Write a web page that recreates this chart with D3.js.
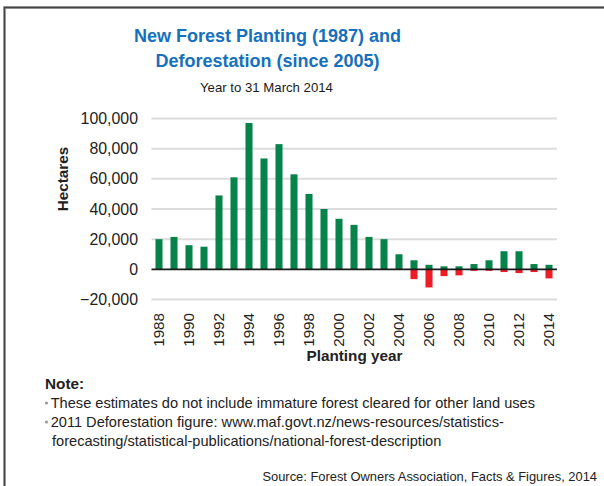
<!DOCTYPE html>
<html>
<head>
<meta charset="utf-8">
<script src="https://cdn.jsdelivr.net/npm/d3@7"></script>
<style>
  html, body { margin: 0; padding: 0; background: #fff; }
  svg { display: block; }
  text { font-family: "Liberation Sans", Arial, Helvetica, sans-serif; }
</style>
</head>
<body>
<svg id="chart" width="604" height="486"></svg>
<script>
// Planting years (year to 31 March)
const years = [1988, 1989, 1990, 1991, 1992, 1993, 1994, 1995, 1996, 1997, 1998, 1999, 2000,
               2001, 2002, 2003, 2004, 2005, 2006, 2007, 2008, 2009, 2010, 2011, 2012, 2013, 2014];
// New forest planting, hectares
const planting = [20000, 21500, 16000, 15000, 49000, 61000, 97000, 73500, 83000, 63000, 50000, 40000, 33500,
                  29500, 21500, 20000, 10000, 6000, 3000, 2000, 2000, 3500, 6000, 12000, 12000, 3500, 3000];
// Deforestation, hectares (recorded since 2005)
const deforestYears = [2005, 2006, 2007, 2008, 2009, 2010, 2011, 2012, 2013, 2014];
const deforestation = [-6500, -12000, -4500, -4000, -1000, -1000, -1800, -2500, -1800, -6000];
// Axis ticks
const yTicks = [-20000, 0, 20000, 40000, 60000, 80000, 100000];
const xTickYears = [1988, 1990, 1992, 1994, 1996, 1998, 2000, 2002, 2004, 2006, 2008, 2010, 2012, 2014];

const svg = d3.select("#chart");
const plot = { left: 151.5, right: 556.5, top: 118.5, bottom: 299.5 };

const x = d3.scaleBand()
  .domain(years)
  .range([plot.left, plot.right])
  .paddingInner(0.53)
  .paddingOuter(0.265);

const y = d3.scaleLinear()
  .domain([-20000, 100000])
  .range([plot.bottom, plot.top]);

// Frame
svg.append("path")
  .attr("d", "M4.5,486 L4.5,7.5 L604,7.5")
  .attr("fill", "none")
  .attr("stroke", "#aaa")
  .attr("stroke-width", 3);
svg.append("path")
  .attr("d", "M4.5,486 L4.5,7.5 L604,7.5")
  .attr("fill", "none")
  .attr("stroke", "#444")
  .attr("stroke-width", 1.3);

// Titles
const cx = 267.5;
svg.append("text").attr("x", cx).attr("y", 41.5)
  .attr("text-anchor", "middle").attr("font-size", 18).attr("font-weight", "bold")
  .attr("fill", "#1570be").text("New Forest Planting (1987) and");
svg.append("text").attr("x", cx).attr("y", 66.5)
  .attr("text-anchor", "middle").attr("font-size", 18).attr("font-weight", "bold")
  .attr("fill", "#1570be").text("Deforestation (since 2005)");
svg.append("text").attr("x", cx - 1).attr("y", 92)
  .attr("text-anchor", "middle").attr("font-size", 13.2)
  .attr("fill", "#1a1a1a").text("Year to 31 March 2014");

// Gridlines
svg.append("g")
  .selectAll("line")
  .data(yTicks.filter(d => d !== 0))
  .join("line")
  .attr("x1", plot.left).attr("x2", plot.right + 0.5)
  .attr("y1", d => y(d)).attr("y2", d => y(d))
  .attr("stroke", "#dcdcdc").attr("stroke-width", 2);

// Y axis labels
const yAxis = svg.append("g")
  .attr("transform", `translate(${plot.left},0)`)
  .call(d3.axisLeft(y).tickValues(yTicks).tickFormat(d3.format(",")).tickSize(0).tickPadding(13.5));
yAxis.select(".domain").remove();
yAxis.selectAll("text")
  .attr("font-size", 15.9).attr("font-family", "Liberation Sans, Arial, sans-serif")
  .attr("fill", "#222");

// Planting bars
svg.append("g")
  .selectAll("rect")
  .data(years.map((yr, i) => ({ yr, v: planting[i] })))
  .join("rect")
  .attr("x", d => x(d.yr))
  .attr("width", x.bandwidth())
  .attr("y", d => y(d.v))
  .attr("height", d => y(0) - y(d.v))
  .attr("fill", "#06834b");

// Deforestation bars
svg.append("g")
  .selectAll("rect")
  .data(deforestYears.map((yr, i) => ({ yr, v: deforestation[i] })))
  .join("rect")
  .attr("x", d => x(d.yr))
  .attr("width", x.bandwidth())
  .attr("y", y(0))
  .attr("height", d => y(d.v) - y(0))
  .attr("fill", "#ee1c25");

// Zero line
svg.append("line")
  .attr("x1", plot.left).attr("x2", plot.right + 0.5)
  .attr("y1", y(0)).attr("y2", y(0))
  .attr("stroke", "#1a1a1a").attr("stroke-width", 1.6);

// X axis labels
const xAxis = svg.append("g")
  .attr("transform", `translate(0,${plot.bottom})`)
  .call(d3.axisBottom(x).tickValues(xTickYears).tickSize(0).tickFormat(d3.format("d")));
xAxis.select(".domain").remove();
xAxis.selectAll("text")
  .attr("font-size", 15.2).attr("font-family", "Liberation Sans, Arial, sans-serif")
  .attr("fill", "#222")
  .attr("text-anchor", "end")
  .attr("transform", "rotate(-90)")
  .attr("x", -13.5)
  .attr("y", 0)
  .attr("dy", "0.35em");

// Axis titles
svg.append("text")
  .attr("transform", "translate(68,179) rotate(-90)")
  .attr("text-anchor", "middle").attr("font-size", 15.3).attr("font-weight", "bold")
  .attr("fill", "#222").text("Hectares");
svg.append("text")
  .attr("x", 354.5).attr("y", 361)
  .attr("text-anchor", "middle").attr("font-size", 15.3).attr("font-weight", "bold")
  .attr("fill", "#222").text("Planting year");

// Notes
svg.append("text").attr("x", 45).attr("y", 389)
  .attr("font-size", 15.3).attr("font-weight", "bold").attr("fill", "#222").text("Note:");
const noteLines = [
  { t: "These estimates do not include immature forest cleared for other land uses", y: 408, bullet: true },
  { t: "2011 Deforestation figure: www.maf.govt.nz/news-resources/statistics-", y: 427, bullet: true },
  { t: "forecasting/statistical-publications/national-forest-description", y: 445.5, bullet: false }
];
noteLines.forEach(n => {
  if (n.bullet) {
    svg.append("circle").attr("cx", 46.5).attr("cy", n.y - 5).attr("r", 1.6).attr("fill", "#9a9a9a");
  }
  svg.append("text").attr("x", n.bullet ? 50.7 : 52).attr("y", n.y)
    .attr("font-size", 14.6).attr("fill", "#222").text(n.t);
});

// Source
svg.append("text").attr("x", 597).attr("y", 481)
  .attr("text-anchor", "end").attr("font-size", 12.9).attr("fill", "#222")
  .text("Source: Forest Owners Association, Facts & Figures, 2014");
</script>
</body>
</html>
